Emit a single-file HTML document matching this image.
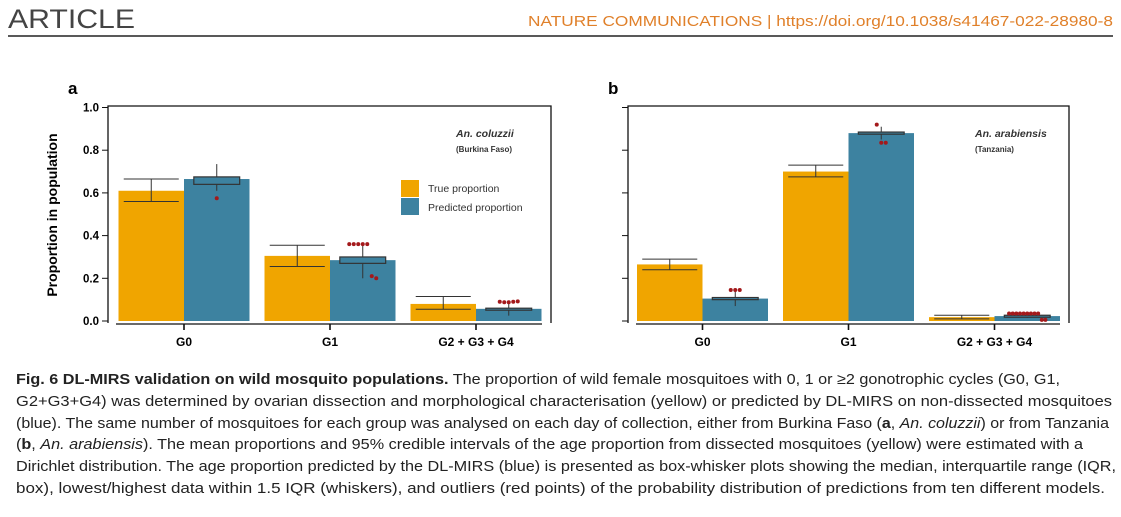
<!DOCTYPE html>
<html><head><meta charset="utf-8">
<style>
html,body{margin:0;padding:0;background:#fff;width:1121px;height:517px;overflow:hidden}
svg{display:block}
</style></head>
<body>
<svg id="fig" width="1121" height="517" viewBox="0 0 1121 517" xmlns="http://www.w3.org/2000/svg" font-family="Liberation Sans, sans-serif">
  <text x="8" y="28" font-size="27" font-weight="300" fill="#444" textLength="127" lengthAdjust="spacingAndGlyphs">ARTICLE</text>
  <text x="528" y="26" font-size="15" fill="#e0802a" textLength="585" lengthAdjust="spacingAndGlyphs">NATURE COMMUNICATIONS | https://doi.org/10.1038/s41467-022-28980-8</text>
  <line x1="8" y1="36" x2="1113" y2="36" stroke="#222" stroke-width="1.5"/>

  <text x="68" y="94" font-size="17" font-weight="bold">a</text>
  <text x="608" y="94" font-size="17" font-weight="bold">b</text>

  <text transform="translate(57,215) rotate(-90)" text-anchor="middle" font-size="14" font-weight="bold">Proportion in population</text>

  <g id="pa"></g>
  <g id="pb"></g>

  <g font-size="10.5" fill="#333">
    <rect x="401" y="180" width="18" height="17" fill="#F0A500"/>
    <rect x="401" y="198" width="18" height="17" fill="#3D82A0"/>
    <text x="428" y="192">True proportion</text>
    <text x="428" y="211">Predicted proportion</text>
  </g>
  <text x="456" y="137" font-size="10.5" font-weight="bold" font-style="italic" fill="#333">An. coluzzii</text>
  <text x="456" y="152" font-size="8" font-weight="bold" fill="#333">(Burkina Faso)</text>
  <text x="975" y="137" font-size="10.5" font-weight="bold" font-style="italic" fill="#333">An. arabiensis</text>
  <text x="975" y="152" font-size="8" font-weight="bold" fill="#333">(Tanzania)</text>

  <g font-size="15" fill="#222">
    <text x="16" y="384" textLength="1044" lengthAdjust="spacingAndGlyphs"><tspan font-weight="bold">Fig. 6 DL-MIRS validation on wild mosquito populations.</tspan> The proportion of wild female mosquitoes with 0, 1 or ≥2 gonotrophic cycles (G0, G1,</text>
    <text x="16" y="406" textLength="1096" lengthAdjust="spacingAndGlyphs">G2+G3+G4) was determined by ovarian dissection and morphological characterisation (yellow) or predicted by DL-MIRS on non-dissected mosquitoes</text>
    <text x="16" y="428" textLength="1093" lengthAdjust="spacingAndGlyphs">(blue). The same number of mosquitoes for each group was analysed on each day of collection, either from Burkina Faso (<tspan font-weight="bold">a</tspan>, <tspan font-style="italic">An. coluzzii</tspan>) or from Tanzania</text>
    <text x="16" y="449" textLength="1067" lengthAdjust="spacingAndGlyphs">(<tspan font-weight="bold">b</tspan>, <tspan font-style="italic">An. arabiensis</tspan>). The mean proportions and 95% credible intervals of the age proportion from dissected mosquitoes (yellow) were estimated with a</text>
    <text x="16" y="471" textLength="1100" lengthAdjust="spacingAndGlyphs">Dirichlet distribution. The age proportion predicted by the DL-MIRS (blue) is presented as box-whisker plots showing the median, interquartile range (IQR,</text>
    <text x="16" y="493" textLength="1089" lengthAdjust="spacingAndGlyphs">box), lowest/highest data within 1.5 IQR (whiskers), and outliers (red points) of the probability distribution of predictions from ten different models.</text>
  </g>
</svg>
<script>
const categories = ["G0", "G1", "G2 + G3 + G4"];
const yTicks = [0, 0.2, 0.4, 0.6, 0.8, 1.0];
const yTickLabels = ["0.0", "0.2", "0.4", "0.6", "0.8", "1.0"];
// panel a
const trueA = [0.61, 0.305, 0.08];
const trueLoA = [0.56, 0.255, 0.055];
const trueHiA = [0.665, 0.355, 0.115];
const predA = [0.665, 0.285, 0.057];
const boxLoA = [0.64, 0.27, 0.055];
const boxHiA = [0.675, 0.30, 0.06];
const whiskLoA = [0.61, 0.20, 0.025];
const whiskHiA = [0.735, 0.36, 0.09];
const outliersA = [[0.575], [0.36,0.36,0.36,0.36,0.36,0.21,0.20], [0.09,0.088,0.088,0.09,0.092]];
// panel b
const trueB = [0.265, 0.70, 0.018];
const trueLoB = [0.24, 0.675, 0.01];
const trueHiB = [0.29, 0.73, 0.027];
const predB = [0.105, 0.88, 0.023];
const boxLoB = [0.10, 0.875, 0.02];
const boxHiB = [0.11, 0.885, 0.027];
const whiskLoB = [0.07, 0.85, 0.015];
const whiskHiB = [0.14, 0.91, 0.035];
const outliersB = [[0.145,0.145,0.145], [0.92,0.835,0.835], [0.035,0.035,0.035,0.035,0.035,0.035,0.035,0.035,0.035,0.005,0.005]];

const NS = "http://www.w3.org/2000/svg";
function mk(parent, tag, attrs){const e=document.createElementNS(NS,tag);for(const k in attrs)e.setAttribute(k,attrs[k]);parent.appendChild(e);return e;}

function drawPanel(g, cfg, d){
  const y = v => cfg.y0 - v*(cfg.y0 - cfg.y1);
  const barW = cfg.barW;
  let e = mk(g,'path',{d:`M${cfg.left},${cfg.y0+2} V${cfg.y1-1.5} H${cfg.right} V${cfg.y0+2}`,fill:'none',stroke:'#111','stroke-width':1.3});
   
  e = mk(g,'line',{x1:cfg.left+8,y1:cfg.y0+3,x2:cfg.right-9,y2:cfg.y0+3,stroke:'#111','stroke-width':1.3});
   
  yTicks.forEach((t,i)=>{
    e = mk(g,'line',{x1:cfg.left-6,x2:cfg.left,y1:y(t),y2:y(t),stroke:'#111','stroke-width':1});
     
    if(cfg.labels){
      e = mk(g,'text',{x:cfg.left-9,y:y(t)+4,'text-anchor':'end','font-size':11.5,'font-weight':'bold'});
      e.textContent = yTickLabels[i];
       
    }
  });
  categories.forEach((c,i)=>{
    const cx = cfg.left + cfg.pad + i*cfg.step + barW;
    e = mk(g,'line',{x1:cx,x2:cx,y1:cfg.y0+3,y2:cfg.y0+9,stroke:'#111','stroke-width':1.6});
     
    e = mk(g,'text',{x:cx,y:cfg.y0+25,'text-anchor':'middle','font-size':12,'font-weight':'bold'});
    e.textContent = c;
     
    e = mk(g,'rect',{x:cx-barW,y:y(d.tr[i]),width:barW,height:y(0)-y(d.tr[i]),fill:'#F0A500'});
     
    e = mk(g,'rect',{x:cx,y:y(d.pr[i]),width:barW,height:y(0)-y(d.pr[i]),fill:'#3D82A0'});
     
    const tx = cx-barW/2, cap = barW*0.42;
    e = mk(g,'path',{d:`M${tx-cap},${y(d.lo[i])} H${tx+cap} M${tx-cap},${y(d.hi[i])} H${tx+cap} M${tx},${y(d.lo[i])} V${y(d.hi[i])}`,stroke:'#333','stroke-width':1,fill:'none'});
     
    const px = cx+barW/2, bw = barW*0.35;
    e = mk(g,'line',{x1:px,x2:px,y1:y(d.wl[i]),y2:y(d.wh[i]),stroke:'#333','stroke-width':1});
     
    e = mk(g,'rect',{x:px-bw,y:y(d.bh[i]),width:2*bw,height:Math.max(2,y(d.bl[i])-y(d.bh[i])),fill:'#3D82A0',stroke:'#333','stroke-width':1.2});
     
    const n = d.out[i].length;
    d.out[i].forEach((v,k)=>{
      const ox = px + (k - (n-1)/2)*Math.min(4.5, 40/n);
      e = mk(g,'circle',{cx:ox,cy:y(v),r:2,fill:'#a3191b'});
       
    });
  });
}
drawPanel(document.getElementById('pa'),
  {left:108,right:551,y0:321,y1:107.5,barW:65.5,pad:10.5,step:146,labels:true},
  {tr:trueA,lo:trueLoA,hi:trueHiA,pr:predA,bl:boxLoA,bh:boxHiA,wl:whiskLoA,wh:whiskHiA,out:outliersA});
drawPanel(document.getElementById('pb'),
  {left:628,right:1069,y0:321,y1:107.5,barW:65.5,pad:9,step:146,labels:false},
  {tr:trueB,lo:trueLoB,hi:trueHiB,pr:predB,bl:boxLoB,bh:boxHiB,wl:whiskLoB,wh:whiskHiB,out:outliersB});
</script>
</body></html>
